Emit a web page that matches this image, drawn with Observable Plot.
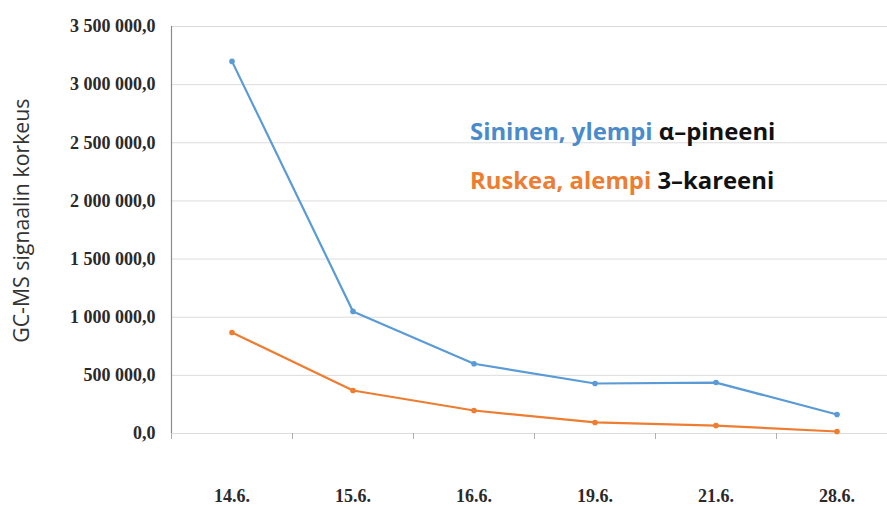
<!DOCTYPE html>
<html>
<head>
<meta charset="utf-8">
<script src="https://cdn.jsdelivr.net/npm/d3@7"></script>
<script src="https://cdn.jsdelivr.net/npm/@observablehq/plot@0.6"></script>
<style>
  html, body { margin: 0; padding: 0; background: #fff; overflow: hidden; }
  #wrap { position: relative; width: 887px; height: 506px; }
  .legend { position: absolute; font-family: "Open Sans", Lato, sans-serif; font-size: 22px; font-weight: 700; white-space: nowrap; color: #111; line-height: 1; }
  .ytitle { position: absolute; font-family: "Open Sans", "Liberation Sans", sans-serif; font-size: 18px; color: #333; transform-origin: center; transform: rotate(-90deg); white-space: nowrap; line-height: 1; }
</style>
</head>
<body>
<div id="wrap"></div>
<script>
const dates = ["14.6.", "15.6.", "16.6.", "19.6.", "21.6.", "28.6."];
const blueValues = [3200000, 1050000, 600000, 430000, 438000, 163000];
const orangeValues = [868000, 370000, 198000, 95000, 68000, 17000];
const yTicks = [0, 500000, 1000000, 1500000, 2000000, 2500000, 3000000, 3500000];

const rows = [];
dates.forEach((d, i) => {
  rows.push({i: i + 0.5, date: d, value: blueValues[i], series: "blue"});
  rows.push({i: i + 0.5, date: d, value: orangeValues[i], series: "orange"});
});
const colors = {blue: "#5B9BD5", orange: "#ED7D31"};
const fmt = d3.formatLocale({decimal: ",", thousands: " ", grouping: [3]}).format(",.1f");

const chart = Plot.plot({
  width: 887,
  height: 506,
  marginLeft: 171,
  marginRight: -10,
  marginTop: 26,
  marginBottom: 73,
  x: {type: "linear", domain: [0, dates.length], label: null},
  y: {domain: [0, 3500000], label: null},
  style: {background: "transparent", overflow: "hidden"},
  marks: [
    Plot.gridY(yTicks, {stroke: "#dcdcdc", strokeOpacity: 1, strokeWidth: 1}),
    Plot.ruleX([0], {y1: 0, y2: 3500000, stroke: "#8c8c8c", strokeWidth: 1.2}),
    Plot.axisX(d3.range(0, dates.length + 1), {tickSize: 6, text: null, stroke: "#b0b0b0", label: null}),
    Plot.axisX(dates.map((d, i) => i + 0.5), {
      tickSize: 0, tickPadding: 56, tickFormat: v => dates[Math.round(v - 0.5)],
      fontSize: 18, fontFamily: "Liberation Serif", fontWeight: "bold", fill: "#2a2a2a", label: null
    }),
    Plot.axisY(yTicks, {
      tickSize: 0, tickPadding: 16, tickFormat: fmt,
      fontSize: 18, fontFamily: "Liberation Serif", fontWeight: "bold", fill: "#2a2a2a", label: null
    }),
    Plot.line(rows, {x: "i", y: "value", z: "series", stroke: d => colors[d.series], strokeWidth: 2.2}),
    Plot.dot(rows, {x: "i", y: "value", fill: d => colors[d.series], r: 2.8})
  ]
});

const wrap = document.getElementById("wrap");
wrap.appendChild(chart);

function fitWidth(el, target) {
  const w = el.offsetWidth;
  const fs = parseFloat(getComputedStyle(el).fontSize);
  el.style.fontSize = (fs * target / w) + "px";
}

const l1 = document.createElement("div");
l1.className = "legend";
l1.innerHTML = '<span style="color:#4A8BCB">Sininen, ylempi</span> α–pineeni';
wrap.appendChild(l1);
fitWidth(l1, 306);
l1.style.left = "470px";
l1.style.top = (131 - l1.offsetHeight / 2) + "px";

const l2 = document.createElement("div");
l2.className = "legend";
l2.innerHTML = '<span style="color:#ED7D31">Ruskea, alempi</span> 3–kareeni';
l2.style.fontSize = l1.style.fontSize;
wrap.appendChild(l2);
l2.style.left = "470px";
l2.style.top = (180 - l2.offsetHeight / 2) + "px";

const yt = document.createElement("div");
yt.className = "ytitle";
yt.textContent = "GC-MS signaalin korkeus";
wrap.appendChild(yt);
fitWidth(yt, 245);
const w = yt.offsetWidth, h = yt.offsetHeight;
yt.style.left = (20 - w / 2) + "px";
yt.style.top = (220 - h / 2) + "px";
</script>
</body>
</html>
